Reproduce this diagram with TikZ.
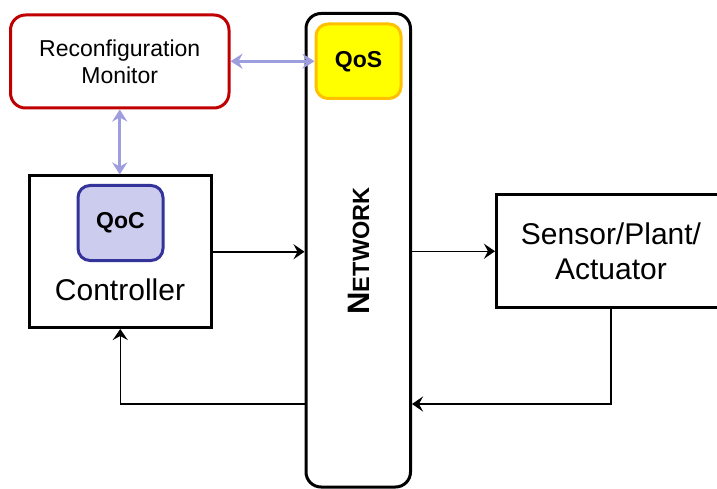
\documentclass[tikz,border=0pt]{standalone}
\usepackage{fontspec}
\setmainfont{Liberation Sans}
\usetikzlibrary{arrows.meta}
\definecolor{rmred}{HTML}{C00000}
\definecolor{qosyellow}{HTML}{FFFF00}
\definecolor{qosorange}{HTML}{FFC000}
\definecolor{qocfill}{HTML}{CCCCEE}
\definecolor{qocline}{HTML}{333399}
\definecolor{lav}{HTML}{9E9EDE}
\tikzset{
  blackbox/.style={draw=black, line width=3pt, fill=white, inner sep=0pt},
  conn/.style={draw=black, line width=1.5pt, -{Stealth[length=11pt,width=15pt,inset=4pt]}},
  lavarrow/.style={draw=lav, line width=3pt, {Stealth[length=12pt,width=15pt,inset=4pt]}-{Stealth[length=12pt,width=15pt,inset=4pt]}},
}
\begin{document}
\begin{tikzpicture}[x=1pt,y=-1pt]
\clip (0,0) rectangle (717,489);
\fill[white] (0,0) rectangle (717,489);
% Network
\node[blackbox, rounded corners=15pt, minimum width=104.5pt, minimum height=473.5pt] (net) at (358.25,250.25) {};
\node[rotate=90, font=\bfseries] (nettxt) at (358.5,251) {\fontsize{31}{31}\selectfont N\fontsize{23.5}{23.5}\selectfont ETWORK};
% QoS
\node[draw=qosorange, fill=qosyellow, line width=3pt, rounded corners=12pt, minimum width=85pt, minimum height=74.5pt, inner sep=0pt, font=\fontsize{23}{27}\selectfont\bfseries] (qos) at (358.5,61.25) {QoS};
% Reconfiguration monitor
\node[draw=rmred, fill=white, line width=3pt, rounded corners=15pt, minimum width=218.5pt, minimum height=93pt, inner sep=0pt, align=center, font=\fontsize{23}{27}\selectfont] (rm) at (119.75,61.5) {Reconfiguration\\Monitor};
% Controller
\node[blackbox, minimum width=181.5pt, minimum height=151.5pt] (ctrl) at (120.25,251.75) {};
\node[draw=qocline, fill=qocfill, line width=3pt, rounded corners=12pt, minimum width=85pt, minimum height=75pt, inner sep=0pt, font=\fontsize{23}{27}\selectfont\bfseries] (qoc) at (120.5,223) {QoC};
\node[anchor=base, inner sep=0pt, font=\fontsize{30}{35}\selectfont] (ctrltxt) at (120,300) {Controller};
% Sensor/Plant/Actuator
\node[blackbox, minimum width=229pt, minimum height=112.5pt, align=center, font=\fontsize{30}{35}\selectfont] (spa) at (611,251.25) {Sensor/Plant/\\Actuator};
% connectors
\coordinate (netin) at (net.east |- 0,404);
\coordinate (netout) at (net.west |- 0,404);
\draw[conn] (ctrl.east) -- (ctrl.east -| net.west);
\draw[conn] (spa.west -| net.east) -- (spa.west);
\draw[conn] (spa.south) |- (netin);
\draw[conn] (netout) -| (ctrl.south);
\draw[lavarrow] (rm.east |- qos.west) -- (qos.west);
\draw[lavarrow] (rm.south) -- (rm.south |- ctrl.north);
\end{tikzpicture}
\end{document}
